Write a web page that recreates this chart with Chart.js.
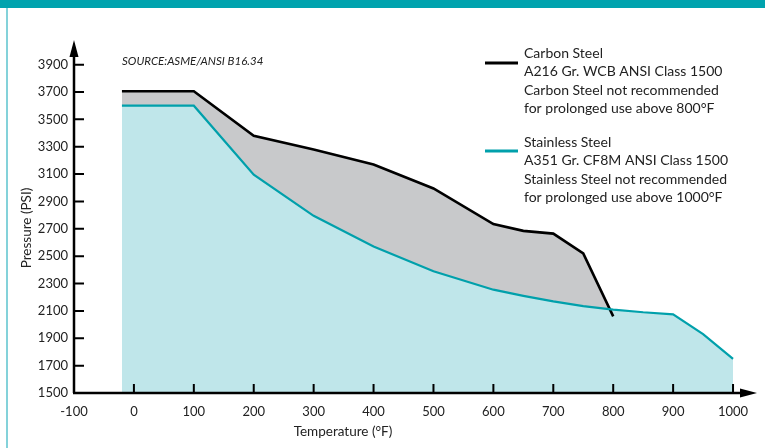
<!DOCTYPE html>
<html>
<head>
<meta charset="utf-8">
<script src="https://cdn.jsdelivr.net/npm/chart.js@4"></script>
<style>
html,body{margin:0;padding:0;background:#fff;}
#wrap{position:relative;width:765px;height:448px;}
</style>
</head>
<body>
<div id="wrap"><canvas id="c" width="765" height="448"></canvas></div>
<script>
const carbonTemps = [-20, 100, 200, 300, 400, 500, 600, 650, 700, 750, 800];
const carbonPsi   = [3705, 3705, 3380, 3280, 3170, 2995, 2735, 2685, 2665, 2520, 2060];
const stainlessTemps = [-20, 100, 200, 300, 400, 500, 600, 650, 700, 750, 800, 850, 900, 950, 1000];
const stainlessPsi   = [3600, 3600, 3095, 2795, 2570, 2390, 2255, 2210, 2170, 2135, 2110, 2090, 2075, 1930, 1750];
const xTickLabels = [-100, 0, 100, 200, 300, 400, 500, 600, 700, 800, 900, 1000];
const yTickLabels = [1500, 1700, 1900, 2100, 2300, 2500, 2700, 2900, 3100, 3300, 3500, 3700, 3900];
const carbonLegend = ["Carbon Steel", "A216 Gr. WCB ANSI Class 1500", "Carbon Steel not recommended", "for prolonged use above 800°F"];
const stainlessLegend = ["Stainless Steel", "A351 Gr. CF8M ANSI Class 1500", "Stainless Steel not recommended", "for prolonged use above 1000°F"];
const sourceText = "SOURCE:ASME/ANSI B16.34";
const xTitle = "Temperature (°F)";
const yTitle = "Pressure (PSI)";

const FONT = "Lato, 'Open Sans', sans-serif";
const TEAL = "#00a3ae";
const CYAN_LINE = "#00a0ab";

const decor = {
  id: 'decor',
  beforeDraw(chart) {
    const ctx = chart.ctx;
    ctx.save();
    ctx.fillStyle = TEAL;
    ctx.fillRect(0, 0, 765, 8);
    ctx.fillStyle = "#84d2da";
    ctx.fillRect(6, 8, 2, 440);
    ctx.restore();
  },
  afterDraw(chart) {
    const ctx = chart.ctx;
    const xs = chart.scales.x, ys = chart.scales.y;
    const a = chart.chartArea;
    const x0 = a.left, y0 = a.bottom;
    ctx.save();
    ctx.strokeStyle = "#000";
    ctx.fillStyle = "#000";
    ctx.lineWidth = 2.5;
    ctx.beginPath();
    ctx.moveTo(x0, y0); ctx.lineTo(x0, a.top + 12);
    ctx.moveTo(x0 - 1, y0); ctx.lineTo(a.right - 14, y0);
    ctx.stroke();
    ctx.beginPath();
    ctx.moveTo(x0, a.top); ctx.lineTo(x0 - 4.5, a.top + 17); ctx.lineTo(x0 + 4.5, a.top + 17); ctx.closePath();
    ctx.fill();
    ctx.beginPath();
    ctx.moveTo(a.right, y0); ctx.lineTo(a.right - 17, y0 - 4.5); ctx.lineTo(a.right - 17, y0 + 4.5); ctx.closePath();
    ctx.fill();
    ctx.lineWidth = 2;
    ctx.beginPath();
    yTickLabels.forEach(v => {
      if (v === yTickLabels[0]) return;
      const py = ys.getPixelForValue(v);
      ctx.moveTo(x0, py); ctx.lineTo(x0 + 10, py);
    });
    xTickLabels.forEach(v => {
      if (v === xTickLabels[0]) return;
      const px = xs.getPixelForValue(v);
      ctx.moveTo(px, y0); ctx.lineTo(px, y0 - 9);
    });
    ctx.stroke();
    ctx.fillStyle = "#222";
    ctx.font = "13.5px " + FONT;
    ctx.textAlign = "center";
    ctx.textBaseline = "middle";
    ctx.fillText(xTitle, 343, 432);
    ctx.save();
    ctx.translate(27, 228);
    ctx.rotate(-Math.PI / 2);
    ctx.fillText(yTitle, 0, 0);
    ctx.restore();
    ctx.textAlign = "left";
    ctx.font = "italic 11.5px " + FONT;
    ctx.fillText(sourceText, 122, 61);
    ctx.font = "14px " + FONT;
    ctx.fillStyle = "#222";
    const lh = 18.5;
    carbonLegend.forEach((t, i) => ctx.fillText(t, 524, 53 + i * lh));
    stainlessLegend.forEach((t, i) => ctx.fillText(t, 524, 142 + i * lh));
    ctx.lineWidth = 3;
    ctx.strokeStyle = "#000";
    ctx.beginPath(); ctx.moveTo(485, 63); ctx.lineTo(518, 63); ctx.stroke();
    ctx.strokeStyle = CYAN_LINE;
    ctx.beginPath(); ctx.moveTo(485, 151); ctx.lineTo(518, 151); ctx.stroke();
    ctx.restore();
  }
};

new Chart(document.getElementById('c'), {
  type: 'line',
  data: {
    datasets: [
      {
        label: 'Stainless Steel',
        data: stainlessTemps.map((t, i) => ({ x: t, y: stainlessPsi[i] })),
        borderColor: CYAN_LINE,
        backgroundColor: '#bfe6ea',
        borderWidth: 2.2,
        fill: 'start',
        pointRadius: 0,
        tension: 0
      },
      {
        label: 'Carbon Steel',
        data: carbonTemps.map((t, i) => ({ x: t, y: carbonPsi[i] })),
        borderColor: '#000',
        backgroundColor: '#c8c9cb',
        borderWidth: 2.6,
        fill: 'start',
        pointRadius: 0,
        tension: 0
      }
    ]
  },
  options: {
    responsive: false,
    animation: false,
    layout: { padding: { left: 0, top: 40, right: 8, bottom: 0 } },
    plugins: {
      legend: { display: false },
      tooltip: { enabled: false },
      filler: { drawTime: 'beforeDatasetsDraw' }
    },
    scales: {
      x: {
        type: 'linear',
        min: -100,
        max: 1040,
        grid: { display: false, drawTicks: false },
        border: { display: false },
        afterBuildTicks: s => { s.ticks = xTickLabels.map(v => ({ value: v })); },
        afterFit: s => { s.height = 55; },
        ticks: { padding: 11, color: '#222', font: { family: FONT, size: 13 }, maxRotation: 0, autoSkip: false, callback: v => String(v) }
      },
      y: {
        type: 'linear',
        min: 1500,
        max: 4080,
        grid: { display: false, drawTicks: false },
        border: { display: false },
        afterBuildTicks: s => { s.ticks = yTickLabels.map(v => ({ value: v })); },
        afterFit: s => { s.width = 74; },
        ticks: { padding: 6, color: '#222', font: { family: FONT, size: 13 }, autoSkip: false, callback: v => String(v) }
      }
    }
  },
  plugins: [decor]
});
</script>
</body>
</html>
